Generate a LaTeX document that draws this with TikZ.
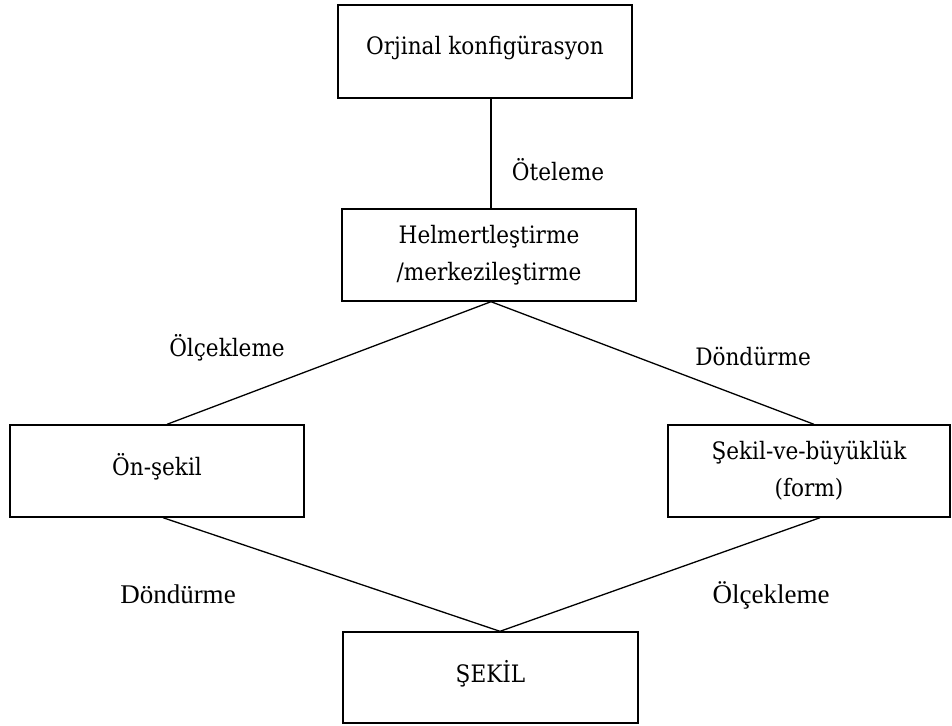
\documentclass[tikz,border=0pt]{standalone}
\usepackage{fontspec}
\setmainfont{DejaVu Serif Condensed}
\newfontfamily\tnr{Liberation Serif}
\usetikzlibrary{calc}
\tikzset{
  box/.style={draw=black, line width=1.4pt, fill=white, inner sep=0pt, align=center,
    font=\fontsize{24}{37}\selectfont},
  conn/.style={draw=black, line width=1.3pt},
  lab/.style={inner sep=0pt, anchor=base, font=\fontsize{24}{28}\selectfont},
  labt/.style={inner sep=0pt, anchor=base, font=\tnr\fontsize{27}{30}\selectfont}
}
\begin{document}
\begin{tikzpicture}[x=1pt,y=-1pt]
\useasboundingbox (0,0) rectangle (952,725);
\node[box, minimum width=294pt, minimum height=93pt, text height=10pt, text depth=3pt] (top) at (485,51.5) {Orjinal konfigürasyon};
\node[box, minimum width=294pt, minimum height=92pt] (helm) at (489,255) {Helmertleştirme\\/merkezileştirme};
\node[box, minimum width=294pt, minimum height=92pt, text height=11pt, text depth=3pt] (left) at (157,471) {Ön-şekil};
\node[box, minimum width=282pt, minimum height=92pt] (right) at (809,471) {Şekil-ve-büyüklük\\(form)};
\node[box, minimum width=295pt, minimum height=91pt, text height=12pt, text depth=2pt] (sekil) at (490.5,677.5) {ŞEKİL};

\draw[conn] ($(top.south)+(6,0)$) -- ($(helm.north)+(2,0)$);
\draw[conn] ($(helm.south)+(2,0)$) -- ($(left.north)+(10,0)$);
\draw[conn] ($(helm.south)+(2,0)$) -- ($(right.north)+(5,0)$);
\draw[conn] ($(left.south)+(6,0)$) -- ($(sekil.north)+(9.5,0)$);
\draw[conn] ($(right.south)+(11,0)$) -- ($(sekil.north)+(9.5,0)$);

\node[lab] (l1) at (558,180) {Öteleme};
\node[lab] (l2) at (227,356) {Ölçekleme};
\node[lab] (l3) at (753,365) {Döndürme};
\node[labt] (l4) at (178,603) {Döndürme};
\node[labt] (l5) at (771,603) {Ölçekleme};
\end{tikzpicture}
\end{document}
